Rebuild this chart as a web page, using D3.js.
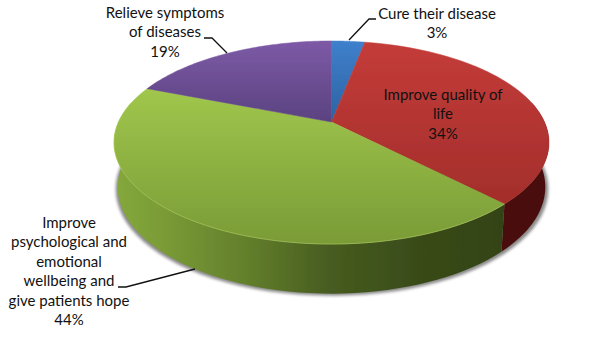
<!DOCTYPE html>
<html>
<head>
<meta charset="utf-8">
<script src="https://cdn.jsdelivr.net/npm/d3@7"></script>
<style>
html, body { margin: 0; padding: 0; background: #fff; }
svg { display: block; }
text { font-family: Lato, "Open Sans", sans-serif; font-size: 15px; fill: #111; text-anchor: middle; }
</style>
</head>
<body>
<script>
const width = 600;
const height = 338;

const categories = ['Cure their disease', 'Improve quality of life', 'Improve psychological and emotional wellbeing and give patients hope', 'Relieve symptoms of diseases'];
const percentLabels = ['3%', '34%', '44%', '19%'];
// slice sizes, the printed labels are rounded differently
const sliceValues = [3, 34.8, 43.2, 19];
const topColors = [['#3f80cc', '#2c62a2'], ['#c43c39', '#a32e2b'], ['#a0c64c', '#7a9b37'], ['#7d5aa6', '#5a4280']];

const cx = 331.5;
const apexY = 122;
const radius = 213;
const ryBase = 97.4;
const tilt = 0.202;      // perspective of the disc
const depthScaleX = 0.983;
const depthScaleY = 1.05;
const ellipseMidY = 142.5;
const bottomMidY = 187;
const visibleFrom = Math.acos(tilt);
const visibleTo = 2 * Math.PI - Math.acos(tilt);

const svg = d3.select('body')
    .append('svg')
    .attr('width', width)
    .attr('height', height);

const defs = svg.append('defs');

// project an angle (clockwise from 12 o'clock) on the top face
function rim(a) {
    const X = Math.sin(a), Y = -Math.cos(a);
    const w = 1 - tilt * Y;
    return [cx + radius * X / w, apexY + ryBase * Y / w];
}
// same angle on the bottom edge of the side wall
function rimLow(a) {
    const p = rim(a);
    return [cx + (p[0] - cx) * depthScaleX, bottomMidY + (p[1] - ellipseMidY) * depthScaleY];
}
function sweep(a0, a1, f) {
    return d3.range(0, 61).map(i => f(a0 + (a1 - a0) * i / 60));
}

const line = d3.line();
const pie = d3.pie().sort(null).value(d => d)(sliceValues);

const blur = defs.append('filter').attr('id', 'shadow').attr('x', '-10%').attr('y', '-10%').attr('width', '120%').attr('height', '120%');
blur.append('feGaussianBlur').attr('stdDeviation', 1.6);
const soft = defs.append('filter').attr('id', 'soft');
soft.append('feGaussianBlur').attr('stdDeviation', 0.45);

topColors.forEach((c, i) => {
    const g = defs.append('linearGradient')
        .attr('id', 'top' + i)
        .attr('gradientUnits', 'userSpaceOnUse')
        .attr('x1', 0).attr('x2', 0)
        .attr('y1', i === 2 ? 90 : 41)
        .attr('y2', i === 2 ? 244 : i === 1 ? 204 : 122);
    g.append('stop').attr('offset', 0).attr('stop-color', c[0]);
    g.append('stop').attr('offset', 1).attr('stop-color', c[1]);
});

const sideStops = [[0, '#84a83c'], [0.12, '#7a9b36'], [0.33, '#63802c'], [0.55, '#475c20'], [0.8, '#384a18'], [1, '#334317']];
const sideGreen = defs.append('linearGradient')
    .attr('id', 'sideGreen')
    .attr('gradientUnits', 'userSpaceOnUse')
    .attr('x1', 116).attr('x2', 505).attr('y1', 0).attr('y2', 0);
sideStops.forEach(s => sideGreen.append('stop').attr('offset', s[0]).attr('stop-color', s[1]));

// soft shadow under the wall
const lowOutline = sweep(visibleFrom, visibleTo, rimLow);
svg.append('path')
    .attr('d', line(lowOutline.map(p => [p[0] + (p[0] > cx ? 3 : -2), p[1] + 2])) + 'Z')
    .attr('fill', '#8a8a8a')
    .attr('filter', 'url(#shadow)');

const chart = svg.append('g').attr('filter', 'url(#soft)');

// side wall, only the part facing the viewer
pie.forEach((s, i) => {
    const a0 = Math.max(s.startAngle, visibleFrom);
    const a1 = Math.min(s.endAngle, visibleTo);
    if (a1 <= a0) return;
    const pts = sweep(a0, a1, rim).concat(sweep(a0, a1, rimLow).reverse());
    chart.append('path')
        .attr('d', line(pts) + 'Z')
        .attr('fill', i === 1 ? '#4a110f' : 'url(#sideGreen)');
});

// top face
pie.forEach((s, i) => {
    const pts = [[cx, apexY]].concat(sweep(s.startAngle, s.endAngle, rim));
    chart.append('path')
        .attr('d', line(pts) + 'Z')
        .attr('fill', 'url(#top' + i + ')')
        .attr('stroke', 'url(#top' + i + ')')
        .attr('stroke-width', 0.5);
});

// light rim on the front of the green slice
const green = pie[2];
chart.append('path')
    .attr('d', line(sweep(green.startAngle, visibleTo, rim)))
    .attr('fill', 'none')
    .attr('stroke', '#b0cf60')
    .attr('stroke-opacity', 0.55)
    .attr('stroke-width', 1);

// leader lines
const leaders = [
    { from: 0, pts: [[349, 40], [369, 19], [376, 19]] },
    { from: 3, pts: [[204, 38], [212, 38], [227, 53]] },
    { from: 2, pts: [[118, 287], [126, 287], [195, 269]] }
];
svg.selectAll('.leader')
    .data(leaders)
    .enter()
    .append('path')
    .attr('class', 'leader')
    .attr('d', d => line(d.pts))
    .attr('fill', 'none')
    .attr('stroke', '#111')
    .attr('stroke-width', 1.3);

// labels, wrapped the way the original wraps them
const labelLines = [
    ['Cure their disease', percentLabels[0]],
    ['Improve quality of', 'life', percentLabels[1]],
    ['Improve', 'psychological and', 'emotional', 'wellbeing and', 'give patients hope', percentLabels[2]],
    ['Relieve symptoms', 'of diseases', percentLabels[3]]
];
const labelAnchors = [[437, 19], [443, 100], [69, 228], [165, 18]];

const labels = svg.selectAll('.label')
    .data(categories)
    .enter()
    .append('text')
    .attr('class', 'label')
    .attr('transform', (d, i) => `translate(${labelAnchors[i][0]}, ${labelAnchors[i][1]})`);

labels.selectAll('tspan')
    .data((d, i) => labelLines[i])
    .enter()
    .append('tspan')
    .attr('x', 0)
    .attr('y', (d, i) => i * 19.4)
    .text(d => d);
</script>
</body>
</html>
